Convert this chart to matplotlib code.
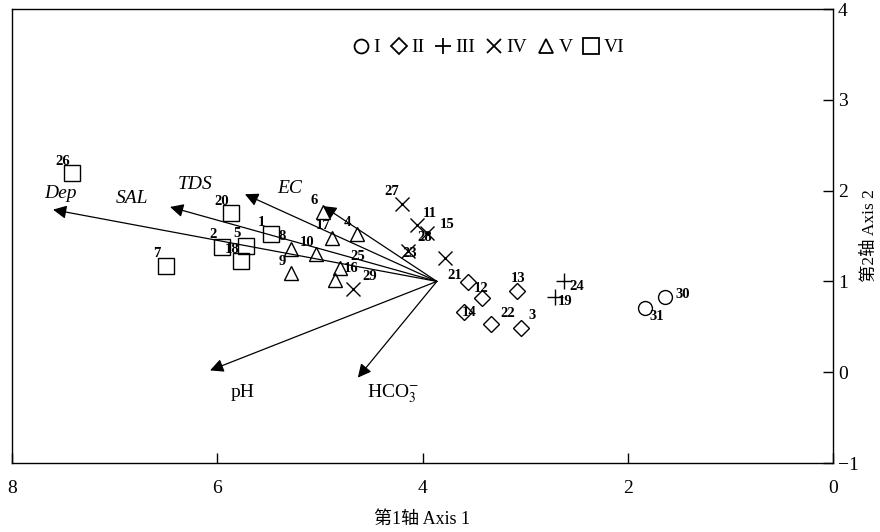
import numpy as np
import matplotlib
matplotlib.use("Agg")
import matplotlib.pyplot as plt
from matplotlib.lines import Line2D

plt.rcParams['font.family'] = ['Liberation Serif', 'Noto Sans CJK SC']
plt.rcParams['mathtext.fontset'] = 'stix'

# sample scores (Axis 1, Axis 2) per group
g1_id = ['30', '31']
g1_x = [1.64, 1.83]
g1_y = [0.83, 0.71]

g2_id = ['21', '12', '13', '14', '22', '3']
g2_x = [3.56, 3.42, 3.08, 3.60, 3.33, 3.04]
g2_y = [0.99, 0.82, 0.89, 0.66, 0.53, 0.49]

g3_id = ['24', '19']
g3_x = [2.62, 2.71]
g3_y = [1.00, 0.83]

g4_id = ['27', '11', '15', '23', '28', '29']
g4_x = [4.20, 4.05, 3.96, 4.14, 3.78, 4.68]
g4_y = [1.85, 1.62, 1.53, 1.34, 1.26, 0.92]

g5_id = ['6', '4', '17', '10', '8', '9', '16', '25']
g5_x = [4.97, 4.64, 4.88, 5.04, 5.28, 5.28, 4.80, 4.85]
g5_y = [1.76, 1.52, 1.48, 1.30, 1.36, 1.09, 1.15, 1.01]

g6_id = ['26', '20', '1', '2', '5', '18', '7']
g6_x = [7.42, 5.87, 5.48, 5.95, 5.72, 5.77, 6.50]
g6_y = [2.19, 1.75, 1.52, 1.38, 1.39, 1.22, 1.17]

# environmental vectors
env_names = ['Dep', 'SAL', 'TDS', 'EC', 'pH', r'HCO$_3^{-}$']
env_x = [7.60, 6.46, 5.73, 4.97, 6.07, 4.63]
env_y = [1.79, 1.82, 1.96, 1.83, 0.02, -0.06]
origin = (3.86, 1.00)

# label offsets in pixels (layout only)
lab_off = {
    '30': (18, 2), '31': (12, -9), '21': (-13, 7), '12': (-1, 9), '13': (1, 13),
    '14': (6, 0), '22': (16, 11), '3': (11, 12), '24': (13, -5), '19': (10, -5),
    '27': (-10, 13), '11': (12, 12), '15': (21, 9), '23': (2, -3), '28': (-20, 20),
    '29': (17, 12), '25': (22, 24), '16': (11, -1),
}
env_lab = [(7.53, 1.97), (6.83, 1.91), (6.22, 2.07), (5.29, 2.02), (5.75, -0.22), (4.29, -0.24)]

fig = plt.figure(figsize=(8.8, 5.32), dpi=100)
ax = fig.add_axes([12 / 880, 1 - 463 / 532, 821 / 880, 454 / 532])

groups = [
    (g1_id, g1_x, g1_y, 'o', 10, 'I'),
    (g2_id, g2_x, g2_y, 'D', 8, 'II'),
    (g3_id, g3_x, g3_y, '+', 12, 'III'),
    (g4_id, g4_x, g4_y, 'x', 10, 'IV'),
    (g5_id, g5_x, g5_y, '^', 10, 'V'),
    (g6_id, g6_x, g6_y, 's', 11, 'VI'),
]

handles = []
for ids, xs, ys, m, ms, name in groups:
    ax.plot(xs, ys, ls='none', marker=m, ms=ms, mfc='none', mec='black', mew=1.0)
    handles.append(Line2D([], [], ls='none', marker=m, ms=ms, mfc='none', mec='black',
                          mew=1.3, label=name))
    for i, x, y in zip(ids, xs, ys):
        dx, dy = lab_off.get(i, (-9, 12))
        ax.annotate(i, (x, y), xytext=(dx, dy), textcoords='offset pixels',
                    ha='center', va='center', fontsize=10.5, fontweight='bold')

for name, ex, ey, (lx, ly) in zip(env_names, env_x, env_y, env_lab):
    ax.annotate('', xy=(ex, ey), xytext=origin,
                arrowprops=dict(arrowstyle='-|>', lw=0.9, color='black',
                                mutation_scale=20, shrinkA=0, shrinkB=0))
    style = 'italic' if name in ('Dep', 'SAL', 'TDS', 'EC') else 'normal'
    ax.text(lx, ly, name, ha='center', va='center', fontsize=14, style=style)

ax.legend(handles=handles, ncol=6, frameon=False, loc='center',
          bbox_to_anchor=(0.58, 0.915), fontsize=14, handlelength=0.9,
          handletextpad=0.2, columnspacing=0.5, borderpad=0)

ax.set_xlim(8, 0)
ax.set_ylim(-1, 4)
ax.set_xticks([8, 6, 4, 2, 0])
ax.set_yticks([-1, 0, 1, 2, 3, 4])
ax.yaxis.tick_right()
ax.yaxis.set_label_position('right')
ax.tick_params(direction='in', length=7, width=1, labelsize=14)
ax.tick_params(axis='x', pad=12)
ax.set_yticklabels(['\u22121', '0', '1', '2', '3', '4'])
ax.set_xlabel('第1轴 Axis 1', fontsize=13, labelpad=10)
ax.set_ylabel('第2轴 Axis 2', fontsize=12.5, labelpad=2)
for s in ax.spines.values():
    s.set_linewidth(1.0)

fig.savefig('out.png', dpi=100)
